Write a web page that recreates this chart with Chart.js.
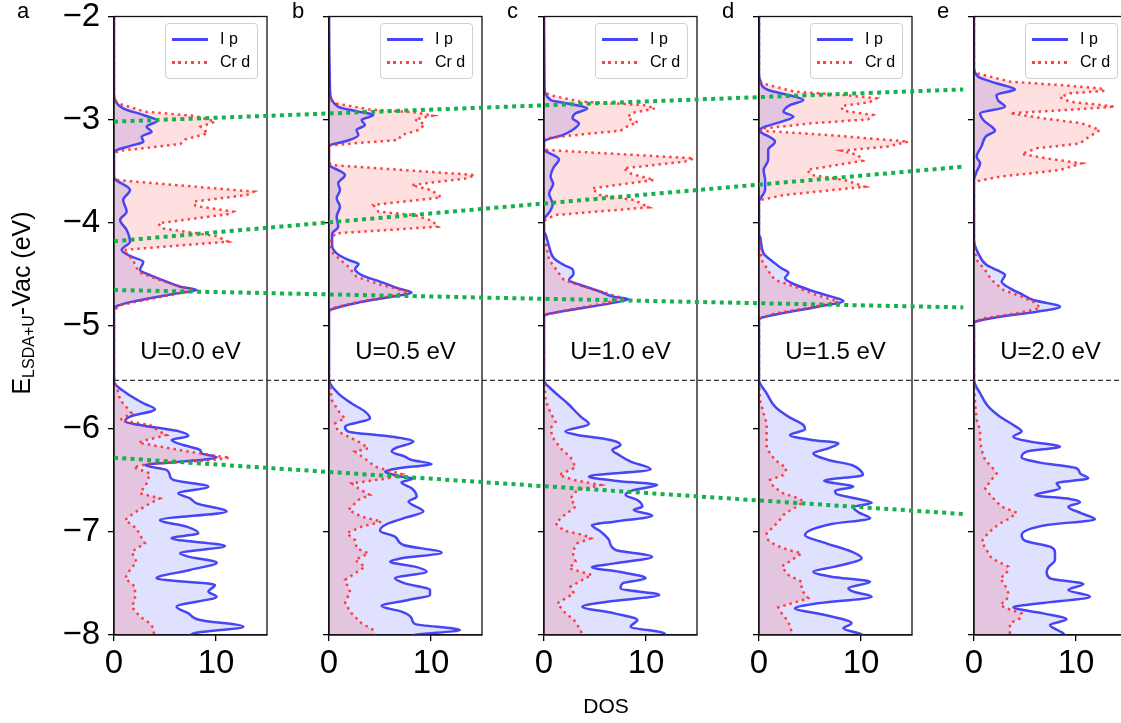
<!DOCTYPE html>
<html>
<head>
<meta charset="utf-8">
<script src="https://cdn.jsdelivr.net/npm/chart.js@4.4.1/dist/chart.umd.min.js"></script>
<style>
  html, body { margin: 0; padding: 0; background: #fff; overflow: hidden; }
  #fig { position: relative; width: 1121px; height: 723px; overflow: hidden; font-family: "Liberation Sans", Arial, sans-serif; color: #000; }
  #fig canvas { position: absolute; }
  .txt { position: absolute; white-space: nowrap; line-height: 1; }
  .leg { position: absolute; border: 1px solid #d0d0d0; border-radius: 4px; background: rgba(255,255,255,0.8); box-sizing: border-box; }
  .leg .smp { position: absolute; left: 6px; width: 36px; }
  .leg .lab { position: absolute; left: 54px; font-size: 16px; line-height: 16px; }
</style>
</head>
<body>
<div id="fig"></div>
<script>
"use strict"

// [energy (eV), DOS], from top (-2) to bottom (-8)
const ipA = [[-2.0,0],[-2.745,0],[-2.891,0.9],[-2.956,2.87],[-3.011,4.25],[-3.069,3.2],[-3.117,3.69],[-3.166,2.71],[-3.214,2.88],[-3.253,1.7],[-3.295,0.3],[-3.327,0],
  [-3.56,0],[-3.586,0.2],[-3.683,1.57],[-3.78,0.9],[-3.893,1.24],[-3.974,0.6],[-4.071,1.24],[-4.184,1.57],[-4.265,0.75],[-4.33,1.73],[-4.379,2.87],[-4.459,2.55],[-4.508,3.53],[-4.572,5.16],[-4.621,6.5],[-4.653,8.1],[-4.686,6.2],[-4.734,3.5],[-4.766,1.8],[-4.808,0.3],[-4.847,0],
  [-5.542,0],[-5.655,1.24],[-5.752,2.88],[-5.811,4.02],[-5.882,1.57],[-5.93,1.08],[-5.963,2.55],[-6.027,6.47],[-6.069,7.29],[-6.108,5.65],[-6.157,6.8],[-6.205,8.43],[-6.238,8.6],[-6.276,10.06],[-6.318,6.8],[-6.351,3.04],[-6.399,5.16],[-6.457,5.49],[-6.496,5.8],[-6.561,9.25],[-6.626,6.3],[-6.674,7.45],[-6.723,8.1],[-6.803,11.05],[-6.884,4.51],[-6.949,7.12],[-7.014,8.27],[-7.062,5.65],[-7.137,10.88],[-7.208,6.47],[-7.24,7.29],[-7.298,10.06],[-7.369,7.45],[-7.45,4.18],[-7.515,9.9],[-7.58,9.25],[-7.628,10.06],[-7.725,6.14],[-7.79,7.29],[-7.855,8.43],[-7.919,12.68],[-7.984,7.8],[-8.05,7.2]];
const crA = [[-2.0,0],[-2.8,0],[-2.842,0.4],[-2.923,3.0],[-2.965,8.0],[-3.02,9.9],[-3.069,8.5],[-3.133,9.2],[-3.192,7.0],[-3.237,6.5],[-3.272,3.5],[-3.302,0.5],[-3.327,0],
  [-3.56,0],[-3.586,0.2],[-3.699,13.7],[-3.732,13.0],[-3.796,7.8],[-3.838,8.0],[-3.893,11.7],[-3.916,11.3],[-4.006,4.35],[-4.055,4.7],[-4.129,10.0],[-4.184,11.2],[-4.265,0.9],[-4.362,1.9],[-4.427,2.1],[-4.492,2.7],[-4.556,4.5],[-4.605,6.0],[-4.653,7.9],[-4.702,5.5],[-4.75,3.0],[-4.799,0.7],[-4.847,0],
  [-5.5,0],[-5.558,0.1],[-5.655,0.45],[-5.72,0.6],[-5.849,1.73],[-5.914,0.6],[-5.963,3.53],[-6.027,4.51],[-6.06,5.16],[-6.108,3.2],[-6.134,2.4],[-6.166,4.2],[-6.212,6.8],[-6.254,9.41],[-6.28,11.37],[-6.309,9.0],[-6.341,3.3],[-6.373,1.9],[-6.432,3.53],[-6.529,3.2],[-6.626,2.55],[-6.674,4.5],[-6.723,3.53],[-6.82,1.9],[-6.884,1.08],[-6.965,2.2],[-7.03,2.55],[-7.111,3.04],[-7.192,1.73],[-7.289,2.2],[-7.369,1.57],[-7.45,1.08],[-7.531,2.06],[-7.66,2.06],[-7.725,1.73],[-7.822,2.55],[-7.887,3.53],[-7.935,3.86],[-8.05,4.0]];

const ipB = [[-2.0,0],[-2.713,0.1],[-2.875,0.9],[-2.923,2.9],[-2.956,4.35],[-3.004,3.2],[-3.053,3.53],[-3.101,2.7],[-3.15,2.88],[-3.205,1.8],[-3.247,0.1],[-3.26,0],
  [-3.44,0],[-3.45,0.1],[-3.538,1.57],[-3.619,0.9],[-3.683,1.08],[-3.764,0.75],[-3.845,1.08],[-3.942,0.75],[-4.039,0.9],[-4.11,0.3],[-4.217,0.3],[-4.298,0.75],[-4.362,1.9],[-4.401,2.9],[-4.45,2.55],[-4.508,3.2],[-4.572,5.0],[-4.637,6.8],[-4.679,8.1],[-4.718,6.2],[-4.776,2.8],[-4.847,0.1],[-4.86,0],
  [-5.526,0],[-5.655,0.9],[-5.752,2.2],[-5.833,3.53],[-5.898,4.02],[-5.979,1.57],[-6.027,1.9],[-6.076,6.14],[-6.124,8.27],[-6.189,6.47],[-6.221,6.14],[-6.27,7.45],[-6.302,8.1],[-6.341,10.06],[-6.383,6.8],[-6.415,5.49],[-6.457,6.8],[-6.483,8.27],[-6.519,7.1],[-6.577,8.1],[-6.658,8.6],[-6.706,7.8],[-6.803,9.25],[-6.868,7.29],[-6.933,5.5],[-6.988,5.0],[-7.046,6.47],[-7.127,7.29],[-7.201,11.05],[-7.256,7.12],[-7.289,6.0],[-7.337,8.43],[-7.386,9.57],[-7.45,6.47],[-7.499,7.45],[-7.563,9.9],[-7.612,9.9],[-7.66,7.78],[-7.719,5.16],[-7.774,7.12],[-7.838,8.1],[-7.893,8.43],[-7.951,12.84],[-8.0,8.4],[-8.05,7.5]];
const crB = [[-2.0,0],[-2.8,0],[-2.842,0.6],[-2.901,3.9],[-2.93,8.4],[-2.962,10.2],[-2.998,8.4],[-3.046,9.4],[-3.101,8.8],[-3.15,7.1],[-3.198,6.8],[-3.23,2.5],[-3.253,0],
  [-3.42,0],[-3.441,0.26],[-3.538,14.3],[-3.57,13.5],[-3.635,8.1],[-3.683,10.0],[-3.754,11.0],[-3.829,4.35],[-3.893,4.85],[-3.926,8.4],[-3.981,10.1],[-4.039,10.7],[-4.104,0.6],[-4.2,0.1],[-4.298,0.4],[-4.427,1.9],[-4.524,2.7],[-4.595,4.85],[-4.67,7.8],[-4.718,5.8],[-4.783,2.2],[-4.831,0.3],[-4.86,0],
  [-5.52,0],[-5.558,0.1],[-5.72,0.26],[-5.849,1.08],[-5.898,1.57],[-5.946,0.6],[-6.027,0.9],[-6.076,1.9],[-6.14,3.2],[-6.189,3.86],[-6.221,2.55],[-6.302,3.7],[-6.367,4.51],[-6.399,5.65],[-6.438,7.12],[-6.48,5.8],[-6.529,2.22],[-6.577,2.88],[-6.642,4.02],[-6.69,2.88],[-6.787,1.9],[-6.852,3.2],[-6.901,5.16],[-6.949,3.2],[-7.014,1.73],[-7.078,2.55],[-7.159,2.71],[-7.208,3.86],[-7.273,2.55],[-7.337,3.53],[-7.402,2.55],[-7.466,1.57],[-7.58,2.06],[-7.693,1.57],[-7.79,2.22],[-7.887,3.2],[-7.951,4.35],[-8.05,4.6]];

const ipC = [[-2.0,0],[-2.681,0.05],[-2.81,0.65],[-2.849,2.6],[-2.891,4.25],[-2.939,3.1],[-2.988,2.8],[-3.036,3.43],[-3.101,2.8],[-3.15,1.8],[-3.198,0.2],[-3.21,0],
  [-3.29,0],[-3.302,0.1],[-3.386,1.47],[-3.463,0.95],[-3.554,0.65],[-3.625,0.9],[-3.716,0.5],[-3.819,0.85],[-3.903,0.5],[-3.948,0.1],[-3.96,0],
  [-4.09,0],[-4.104,0.1],[-4.233,0.5],[-4.346,0.98],[-4.411,1.96],[-4.453,2.8],[-4.498,2.9],[-4.556,2.45],[-4.605,3.6],[-4.67,5.56],[-4.718,6.86],[-4.741,8.3],[-4.783,6.5],[-4.847,2.6],[-4.896,0.1],[-4.91,0],
  [-5.526,0],[-5.623,0.8],[-5.752,2.3],[-5.882,3.6],[-5.953,4.4],[-6.027,2.1],[-6.06,3.27],[-6.108,6.5],[-6.157,7.5],[-6.205,6.7],[-6.254,7.35],[-6.318,8.5],[-6.393,10.46],[-6.464,4.4],[-6.503,6.9],[-6.545,11.1],[-6.593,8.8],[-6.642,8.0],[-6.69,9.15],[-6.755,9.64],[-6.787,8.8],[-6.842,10.6],[-6.901,6.9],[-6.933,4.7],[-6.997,5.56],[-7.078,6.37],[-7.175,7.0],[-7.24,10.6],[-7.305,6.9],[-7.343,4.7],[-7.386,7.35],[-7.45,9.97],[-7.499,7.7],[-7.547,7.5],[-7.612,11.3],[-7.677,6.2],[-7.725,3.76],[-7.79,6.9],[-7.855,9.15],[-7.919,8.5],[-7.984,11.8],[-8.05,12.0]];
const crC = [[-2.0,0],[-2.72,0],[-2.762,0.5],[-2.826,3.6],[-2.859,9.8],[-2.891,10.9],[-2.939,8.5],[-2.988,8.2],[-3.027,9.2],[-3.059,8.3],[-3.108,7.5],[-3.143,3.8],[-3.182,0.2],[-3.19,0],
  [-3.28,0],[-3.295,0.3],[-3.376,14.7],[-3.408,13.8],[-3.473,7.8],[-3.528,8.6],[-3.586,10.8],[-3.667,4.7],[-3.732,5.5],[-3.78,8.8],[-3.851,10.3],[-3.926,1.1],[-3.974,0.1],[-3.99,0],
  [-4.15,0],[-4.168,0.1],[-4.362,0.5],[-4.492,1.47],[-4.556,1.96],[-4.621,3.9],[-4.686,6.2],[-4.734,7.8],[-4.783,5.9],[-4.847,2.3],[-4.896,0.1],[-4.91,0],
  [-5.52,0],[-5.558,0.05],[-5.72,0.15],[-5.849,0.65],[-5.93,1.14],[-5.995,0.65],[-6.076,0.8],[-6.189,1.63],[-6.276,2.6],[-6.373,3.1],[-6.448,1.47],[-6.496,2.94],[-6.545,5.55],[-6.593,3.27],[-6.674,2.6],[-6.755,3.1],[-6.852,1.8],[-6.917,1.14],[-6.988,1.96],[-7.03,3.9],[-7.062,4.6],[-7.111,3.27],[-7.192,2.78],[-7.289,3.1],[-7.353,2.45],[-7.418,4.7],[-7.473,3.6],[-7.531,2.6],[-7.596,2.94],[-7.693,1.3],[-7.774,1.96],[-7.855,2.94],[-7.951,3.6],[-8.05,3.8]];

const ipD = [[-2.0,0],[-2.55,0],[-2.616,0.1],[-2.713,0.9],[-2.762,2.9],[-2.81,4.35],[-2.859,3.05],[-2.923,2.4],[-2.972,3.37],[-3.02,2.2],[-3.069,0.6],[-3.108,0],
  [-3.117,0.1],[-3.214,1.57],[-3.295,0.9],[-3.392,0.9],[-3.489,0.45],[-3.586,0.6],[-3.683,0.6],[-3.748,0.26],[-3.796,0],
  [-4.12,0],[-4.136,0.1],[-4.298,0.45],[-4.395,1.57],[-4.443,2.2],[-4.485,2.88],[-4.54,2.55],[-4.595,3.4],[-4.66,5.16],[-4.718,7.1],[-4.76,8.27],[-4.815,5.8],[-4.88,2.2],[-4.928,0.1],[-4.94,0],
  [-5.526,0],[-5.655,0.75],[-5.785,1.57],[-5.882,2.88],[-5.963,4.35],[-6.005,4.51],[-6.06,3.04],[-6.108,5.16],[-6.14,7.78],[-6.189,6.8],[-6.238,5.33],[-6.302,6.8],[-6.351,9.08],[-6.399,9.9],[-6.448,10.2],[-6.503,6.4],[-6.561,9.25],[-6.6,7.45],[-6.632,7.6],[-6.674,9.4],[-6.716,11.05],[-6.761,9.25],[-6.813,9.8],[-6.868,10.9],[-6.923,7.12],[-7.03,4.51],[-7.111,6.6],[-7.192,9.08],[-7.256,10.06],[-7.337,7.45],[-7.386,5.33],[-7.434,7.12],[-7.483,10.9],[-7.547,8.76],[-7.58,9.25],[-7.628,11.05],[-7.693,5.8],[-7.741,3.53],[-7.806,6.47],[-7.887,9.08],[-7.935,8.27],[-7.993,10.06],[-8.05,10.5]];
const crD = [[-2.0,0],[-2.6,0],[-2.648,0.26],[-2.729,3.5],[-2.762,8.4],[-2.794,11.5],[-2.833,10.8],[-2.868,8.1],[-2.913,8.2],[-2.956,11.2],[-2.998,10.7],[-3.036,5.2],[-3.085,0.6],[-3.1,0.1],
  [-3.108,0.26],[-3.15,6.8],[-3.214,14.64],[-3.263,12.5],[-3.302,8.1],[-3.344,9.7],[-3.399,10.2],[-3.489,4.7],[-3.538,5.2],[-3.586,8.4],[-3.651,10.4],[-3.732,2.5],[-3.78,0.1],[-3.79,0],
  [-4.15,0],[-4.168,0.1],[-4.362,0.26],[-4.492,1.08],[-4.556,1.57],[-4.621,3.5],[-4.702,5.65],[-4.766,7.78],[-4.822,5.16],[-4.88,1.57],[-4.928,0.1],[-4.94,0],
  [-5.558,0],[-5.72,0.1],[-5.849,0.45],[-5.946,0.75],[-6.076,0.75],[-6.189,0.75],[-6.302,1.57],[-6.383,2.71],[-6.448,2.39],[-6.496,1.08],[-6.561,1.41],[-6.626,2.39],[-6.674,3.86],[-6.706,4.35],[-6.755,3.69],[-6.82,2.55],[-6.901,1.9],[-7.014,0.75],[-7.078,0.9],[-7.127,1.57],[-7.175,2.88],[-7.208,4.18],[-7.273,3.2],[-7.337,2.22],[-7.418,2.88],[-7.483,4.18],[-7.563,4.18],[-7.644,4.84],[-7.693,3.2],[-7.732,1.9],[-7.79,2.22],[-7.871,2.88],[-7.968,3.2],[-8.05,3.3]];

const ipE = [[-2.0,0],[-2.487,0],[-2.584,0.42],[-2.648,2.2],[-2.707,4.02],[-2.762,2.2],[-2.817,2.39],[-2.875,3.04],[-2.939,0.6],[-3.011,0.98],[-3.069,1.73],[-3.108,2.06],[-3.159,1.2],[-3.256,0.75],[-3.36,0.26],[-3.425,0.6],[-3.505,0.26],[-3.586,0],
  [-4.168,0],[-4.298,0.42],[-4.411,1.24],[-4.466,2.39],[-4.508,3.04],[-4.573,2.71],[-4.637,3.53],[-4.702,4.84],[-4.75,5.8],[-4.815,8.43],[-4.864,6.14],[-4.912,2.55],[-4.961,0.1],[-4.97,0],
  [-5.526,0],[-5.655,0.6],[-5.785,1.41],[-5.882,2.55],[-5.963,3.86],[-6.027,4.67],[-6.076,3.86],[-6.124,5.49],[-6.173,8.43],[-6.221,5.16],[-6.276,4.67],[-6.328,6.47],[-6.383,10.06],[-6.432,10.4],[-6.48,11.2],[-6.529,8.1],[-6.577,8.43],[-6.642,6.0],[-6.681,9.41],[-6.713,10.4],[-6.755,9.25],[-6.82,10.55],[-6.878,11.86],[-6.933,7.12],[-7.03,4.67],[-7.085,4.99],[-7.15,7.61],[-7.201,7.94],[-7.273,7.94],[-7.343,7.29],[-7.392,7.12],[-7.45,7.45],[-7.505,10.72],[-7.563,9.25],[-7.628,11.37],[-7.693,6.47],[-7.732,3.86],[-7.79,6.8],[-7.848,9.08],[-7.903,7.45],[-7.984,8.76],[-8.05,9.0]];
const crE = [[-2.0,0],[-2.52,0],[-2.551,0.26],[-2.632,3.53],[-2.665,8.43],[-2.697,12.35],[-2.72,12.84],[-2.745,9.41],[-2.784,8.43],[-2.826,9.41],[-2.875,13.82],[-2.907,9.08],[-2.939,3.53],[-2.988,6.8],[-3.036,10.55],[-3.101,12.35],[-3.182,11.05],[-3.231,10.4],[-3.279,6.14],[-3.334,4.67],[-3.376,7.12],[-3.425,10.55],[-3.489,8.43],[-3.554,2.55],[-3.602,0.1],[-3.61,0],
  [-4.233,0],[-4.362,0.26],[-4.459,1.08],[-4.556,1.73],[-4.653,2.88],[-4.718,4.67],[-4.783,6.14],[-4.831,6.47],[-4.88,4.18],[-4.928,0.9],[-4.961,0.1],[-4.97,0],
  [-5.558,0],[-5.752,0.1],[-5.914,0.26],[-6.011,0.6],[-6.124,0.6],[-6.205,0.75],[-6.302,1.08],[-6.367,1.73],[-6.432,2.22],[-6.512,1.57],[-6.577,1.08],[-6.658,1.73],[-6.755,2.71],[-6.787,3.53],[-6.813,4.18],[-6.868,3.53],[-6.917,2.55],[-6.981,1.73],[-7.046,1.08],[-7.095,0.75],[-7.175,1.24],[-7.256,1.73],[-7.298,2.55],[-7.337,3.37],[-7.402,3.2],[-7.45,2.55],[-7.515,3.04],[-7.596,3.37],[-7.66,3.2],[-7.709,2.55],[-7.741,3.2],[-7.79,4.67],[-7.838,4.51],[-7.887,3.53],[-7.951,3.53],[-8.05,3.5]];

const panelTags = ["a", "b", "c", "d", "e"];
const uValues = ["0.0", "0.5", "1.0", "1.5", "2.0"];
const yTicks = [-2, -3, -4, -5, -6, -7, -8];
const xTicks = [0, 10];

// green guides: x is the panel position (0 = axis of panel a, 4 = axis of panel e)
const guideX = [0, 3.95];
const guideCrTop = [-3.02, -2.707];
const guideCrMid = [-4.18, -3.457];
const guideIp = [-4.653, -4.822];
const guideCrVal = [-6.28, -6.826];
const gapLevel = -5.53;

const ipSets = [ipA, ipB, ipC, ipD, ipE];
const crSets = [crA, crB, crC, crD, crE];

const font = "'Liberation Sans', Arial, sans-serif";
Chart.defaults.font.family = font;
Chart.defaults.color = "#000";

const blueLine = "#4646f5";
const blueFill = "rgba(0,0,255,0.12)";
const redLine = "rgba(255,45,45,0.9)";
const redFill = "rgba(255,0,0,0.12)";

const fig = document.getElementById("fig");
const left0 = 114, step = 215, plotW = 153, lift = 30;

function pts(arr) {
    return arr.map(p => ({ x: p[1], y: p[0] }));
}

function minus(v) {
    return v < 0 ? "\u2212" + Math.abs(v) : String(v);
}

const frame = {
    id: "frame",
    afterDraw(chart) {
        const a = chart.chartArea;
        const ctx = chart.ctx;
        ctx.save();
        ctx.strokeStyle = "#111";
        ctx.lineWidth = 1.3;
        ctx.strokeRect(a.left, a.top, a.right - a.left, a.bottom - a.top);
        ctx.restore();
    }
};

function addText(html, css) {
    let d = document.createElement("div");
    d.className = "txt";
    d.innerHTML = html;
    Object.assign(d.style, css);
    fig.appendChild(d);
    return d;
}

for (let i = 0; i < 5; i++) {
    let L = left0 + step * i;
    let yW = i === 0 ? 114 : 60;
    let cv = document.createElement("canvas");
    cv.width = yW + plotW + 4;
    cv.height = 723 + lift;
    cv.style.left = (L - yW) + "px";
    cv.style.top = (-lift) + "px";
    fig.appendChild(cv);

    new Chart(cv, {
        type: "line",
        data: {
            datasets: [{
                label: "Cr d",
                data: pts(crSets[i]),
                borderColor: redLine,
                backgroundColor: redFill,
                borderWidth: 2.5,
                borderDash: [2.5, 4],
                fill: "origin",
                pointRadius: 0,
                tension: 0
            }, {
                label: "I p",
                data: pts(ipSets[i]),
                borderColor: blueLine,
                backgroundColor: blueFill,
                borderWidth: 2.5,
                fill: "origin",
                pointRadius: 0,
                cubicInterpolationMode: "monotone"
            }]
        },
        options: {
            indexAxis: "y",
            responsive: false,
            animation: false,
            devicePixelRatio: 1,
            layout: { padding: { top: 16.5 + lift, right: 4, bottom: 48, left: 0 } },
            plugins: {
                legend: { display: false },
                tooltip: { enabled: false },
                filler: { drawTime: "beforeDatasetsDraw" }
            },
            scales: {
                x: {
                    type: "linear", min: 0, max: 15,
                    afterBuildTicks: s => { s.ticks = xTicks.map(v => ({ value: v })); },
                    afterFit: s => { s.height = 40; },
                    grid: { drawOnChartArea: false, tickLength: 6, color: "#000", lineWidth: 1.3 },
                    border: { display: true, color: "#111", width: 1.3 },
                    ticks: { font: { size: 33 }, color: "#000", padding: 3, maxRotation: 0 }
                },
                y: {
                    type: "linear", min: -8, max: -2,
                    afterBuildTicks: s => { s.ticks = yTicks.map(v => ({ value: v })); },
                    afterFit: s => { s.width = yW; },
                    grid: { drawOnChartArea: false, tickLength: 6, color: "#000", lineWidth: 1.3 },
                    border: { display: true, color: "#111", width: 1.3 },
                    ticks: { display: i === 0, font: { size: 33 }, color: "#000", padding: 8, callback: v => minus(v) }
                }
            }
        },
        plugins: [frame]
    });

    // legend box
    let leg = document.createElement("div");
    leg.className = "leg";
    Object.assign(leg.style, { left: (L + 51) + "px", top: "22.5px", width: "93px", height: "56px" });
    leg.innerHTML =
        '<div class="smp" style="top:14.5px;height:2.5px;background:' + blueLine + '"></div>' +
        '<div class="lab" style="top:7.5px">I p</div>' +
        '<div class="smp" style="top:37.5px;height:2.5px;background:repeating-linear-gradient(90deg,' + redLine + ' 0 2.5px,transparent 2.5px 6.5px)"></div>' +
        '<div class="lab" style="top:30.5px">Cr d</div>';
    fig.appendChild(leg);

    addText("U=" + uValues[i] + " eV", { left: (L + 76.5) + "px", top: "339px", fontSize: "24px", transform: "translateX(-50%)" });
}

// panel letters
const tagLeft = [17, 292, 507, 722, 937];
panelTags.forEach((t, i) => addText(t, { left: tagLeft[i] + "px", top: "0px", fontSize: "22px" }));

addText("DOS", { left: "606px", top: "695px", fontSize: "21px", transform: "translateX(-50%)" });
addText('E<sub style="font-size:16px;vertical-align:-0.3em">LSDA+U</sub>-Vac (eV)',
    { left: "23px", top: "303px", fontSize: "25px", transform: "translate(-50%,-50%) rotate(-90deg)" });

// overlay with the green guides and the dashed separator
let ov = document.createElement("canvas");
ov.width = 1121;
ov.height = 723;
ov.style.left = "0px";
ov.style.top = "0px";
fig.appendChild(ov);

function guide(vals) {
    return {
        data: guideX.map((x, k) => ({ x: x, y: vals[k] })),
        borderColor: "#16b04c",
        borderWidth: 4,
        borderDash: [4, 4.3],
        borderCapStyle: "butt",
        pointRadius: 0,
        fill: false,
        clip: false
    };
}

new Chart(ov, {
    type: "line",
    data: {
        datasets: [
            guide(guideCrTop), guide(guideCrMid), guide(guideIp), guide(guideCrVal),
            {
                data: [{ x: 0, y: gapLevel }, { x: 4.7, y: gapLevel }],
                borderColor: "#333",
                borderWidth: 1.2,
                borderDash: [5, 3],
                pointRadius: 0,
                fill: false,
                clip: false
            }
        ]
    },
    options: {
        responsive: false,
        animation: false,
        devicePixelRatio: 1,
        layout: { padding: { left: left0, right: 1121 - (left0 + 4 * step), top: 16.5, bottom: 88 } },
        plugins: { legend: { display: false }, tooltip: { enabled: false } },
        scales: {
            x: { type: "linear", display: false, min: 0, max: 4 },
            y: { type: "linear", display: false, min: -8, max: -2 }
        }
    }
});
</script>
</body>
</html>
